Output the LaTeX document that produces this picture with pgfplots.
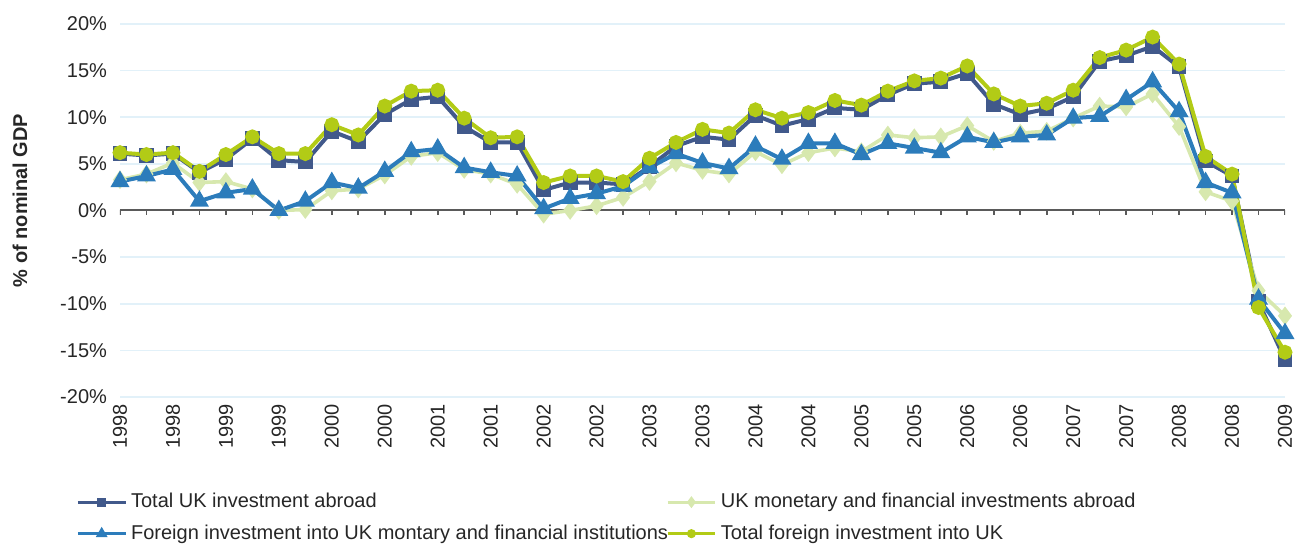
\documentclass[border=0pt]{standalone}
\usepackage{fontspec}
\setmainfont{Liberation Sans}
\usepackage{pgfplots}
\pgfplotsset{compat=1.18}
\definecolor{navyc}{HTML}{41598B}
\definecolor{bluec}{HTML}{2C7CBB}
\definecolor{lightc}{HTML}{D7E8AE}
\definecolor{limec}{HTML}{B2CB16}
\definecolor{gridc}{HTML}{E2F1F9}
\definecolor{axisc}{HTML}{5A5A5A}
\definecolor{textc}{HTML}{262626}
\pgfplotsset{legend image code/.code={\draw[mark repeat=2,mark phase=2,line width=1.5pt,/tikz/every mark/.append style={scale=0.55}] plot coordinates {(0cm,0cm) (0.42cm,0cm) (0.84cm,0cm)};}}
\begin{document}
\begin{tikzpicture}
\begin{axis}[
  scale only axis, width=582.5pt, height=186.5pt,
  xmin=0, xmax=44, ymin=-20, ymax=20,
  axis line style={draw=none},
  tick style={draw=none},
  xtick={0,2,...,44},
  xticklabels={1998,1998,1999,1999,2000,2000,2001,2001,2002,2002,2003,2003,2004,2004,2005,2005,2006,2006,2007,2007,2008,2008,2009},
  xticklabel style={rotate=90, anchor=east, font=\fontsize{10}{12}\selectfont, text=textc},
  ytick={-20,-15,...,20},
  yticklabels={-20\%,-15\%,-10\%,-5\%,0\%,5\%,10\%,15\%,20\%},
  yticklabel style={font=\fontsize{10}{12}\selectfont, text=textc, xshift=-3pt},
  ymajorgrids, grid style={color=gridc, line width=0.8pt},
  ylabel={\textbf{\% of nominal GDP}},
  ylabel style={at={(axis description cs:0,0.5)}, anchor=center, xshift=5pt, yshift=50pt, font=\fontsize{10}{12}\selectfont, text=textc},
  legend columns=2,
  legend cell align=left,
  legend style={at={(rel axis cs:-0.043,-0.236)}, anchor=north west, draw=none, fill=none,
    font=\fontsize{10}{12}\selectfont, text=textc, row sep=3pt,
    /tikz/every even column/.append style={column sep=-3pt}},
]
\coordinate (BL) at (rel axis cs:-0.103,-0.402);
\coordinate (TR) at (rel axis cs:1.0146,1.0643);
\draw[axisc, line width=1pt] (axis cs:0,0) -- (axis cs:44,0);
\pgfplotsinvokeforeach{0,...,44}{\draw[axisc, line width=0.8pt] (axis cs:#1,0) -- ([yshift=-2.5pt]axis cs:#1,0);}
\addplot[navyc, line width=2pt, mark=square*, mark size=2.7pt, mark options={fill=navyc, draw=navyc}] coordinates {
(0,6.1)(1,5.9)(2,6.1)(3,4.1)(4,5.5)(5,7.7)(6,5.4)(7,5.2)(8,8.5)(9,7.4)(10,10.3)(11,11.9)(12,12.2)(13,9.0)(14,7.3)(15,7.3)(16,2.2)(17,3.0)(18,3.0)(19,2.8)(20,4.7)(21,6.9)(22,7.9)(23,7.6)(24,10.2)(25,9.1)(26,9.8)(27,11.0)(28,10.8)(29,12.4)(30,13.6)(31,13.8)(32,14.7)(33,11.4)(34,10.3)(35,10.9)(36,12.2)(37,16.0)(38,16.6)(39,17.6)(40,15.4)(41,5.3)(42,3.7)(43,-9.8)(44,-16.0)};
\addlegendentry{Total UK investment abroad}
\addplot[lightc, line width=1.8pt, mark=diamond*, mark size=3.2pt, mark options={fill=lightc, draw=lightc}] coordinates {
(0,3.3)(1,3.9)(2,5.1)(3,3.0)(4,3.1)(5,2.3)(6,0.0)(7,0.1)(8,2.1)(9,2.3)(10,3.8)(11,5.8)(12,6.2)(13,4.4)(14,3.9)(15,2.8)(16,-0.4)(17,0.0)(18,0.5)(19,1.4)(20,3.1)(21,5.1)(22,4.3)(23,3.9)(24,6.3)(25,4.9)(26,6.2)(27,6.7)(28,6.3)(29,8.1)(30,7.8)(31,7.9)(32,9.1)(33,7.4)(34,8.3)(35,8.5)(36,9.9)(37,11.2)(38,11.1)(39,12.5)(40,9.0)(41,2.0)(42,1.0)(43,-8.6)(44,-11.3)};
\addlegendentry{UK monetary and financial investments abroad}
\addplot[bluec, line width=2pt, mark=triangle*, mark size=3.5pt, mark options={fill=bluec, draw=bluec}] coordinates {
(0,3.1)(1,3.7)(2,4.4)(3,1.0)(4,1.9)(5,2.3)(6,0.0)(7,1.0)(8,3.0)(9,2.4)(10,4.2)(11,6.3)(12,6.6)(13,4.6)(14,4.1)(15,3.7)(16,0.2)(17,1.3)(18,1.8)(19,2.6)(20,4.6)(21,6.1)(22,5.1)(23,4.5)(24,6.9)(25,5.5)(26,7.2)(27,7.2)(28,6.0)(29,7.2)(30,6.7)(31,6.2)(32,7.9)(33,7.3)(34,7.9)(35,8.1)(36,9.9)(37,10.1)(38,11.9)(39,13.8)(40,10.6)(41,3.0)(42,1.9)(43,-9.5)(44,-13.2)};
\addlegendentry{Foreign investment into UK montary and financial institutions}
\addplot[limec, line width=2pt, mark=*, mark size=2.7pt, mark options={fill=limec, draw=limec}] coordinates {
(0,6.2)(1,6.0)(2,6.2)(3,4.2)(4,6.0)(5,7.9)(6,6.1)(7,6.1)(8,9.2)(9,8.1)(10,11.2)(11,12.8)(12,12.9)(13,9.9)(14,7.8)(15,7.9)(16,3.0)(17,3.7)(18,3.7)(19,3.1)(20,5.6)(21,7.3)(22,8.7)(23,8.3)(24,10.8)(25,9.9)(26,10.5)(27,11.8)(28,11.3)(29,12.8)(30,13.9)(31,14.2)(32,15.5)(33,12.5)(34,11.2)(35,11.5)(36,12.9)(37,16.4)(38,17.2)(39,18.6)(40,15.7)(41,5.8)(42,3.9)(43,-10.4)(44,-15.2)};
\addlegendentry{Total foreign investment into UK}
\end{axis}
\path (BL) rectangle (TR);
\end{tikzpicture}
\end{document}
